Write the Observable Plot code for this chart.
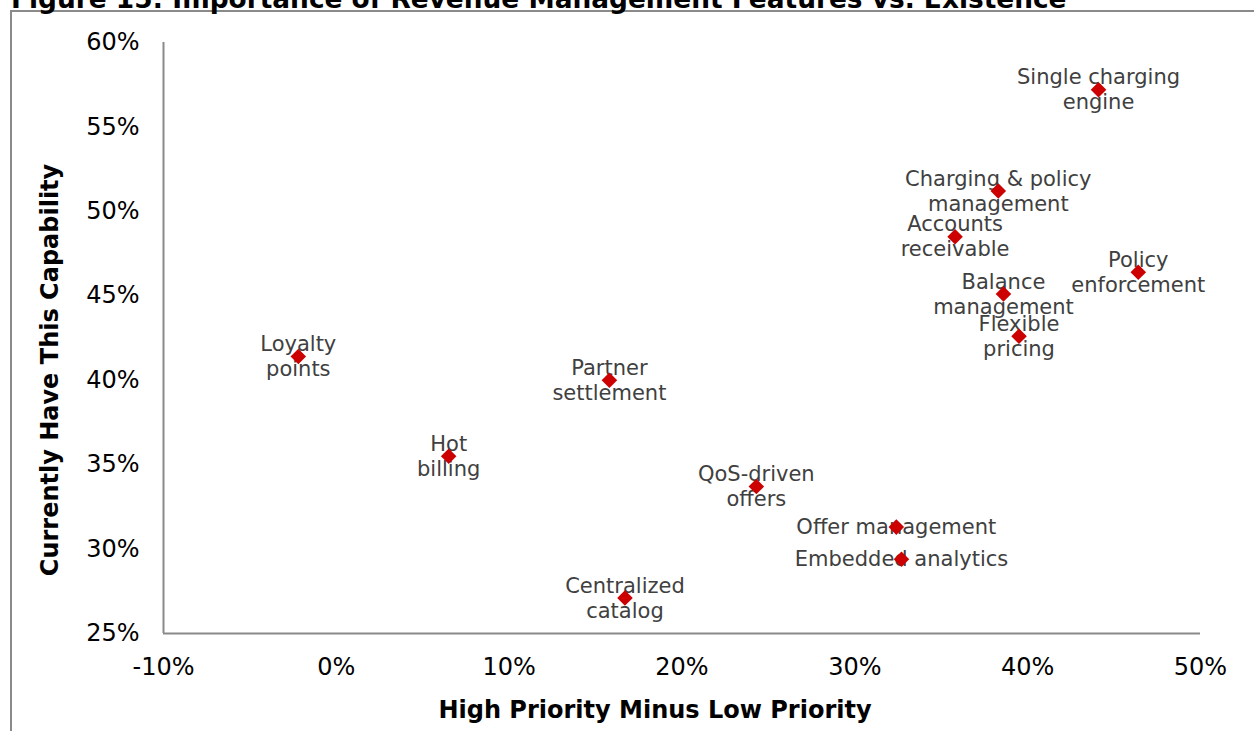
<!DOCTYPE html>
<html>
<head>
<meta charset="utf-8">
<script src="https://cdn.jsdelivr.net/npm/d3@7"></script>
<script src="https://cdn.jsdelivr.net/npm/@observablehq/plot@0.6"></script>
<style>
  html, body { margin: 0; padding: 0; background: #fff; overflow: hidden; }
  #wrap { position: relative; width: 1254px; height: 731px; overflow: hidden; }
  #title { position: absolute; left: 11px; top: -14px; font: bold 26.4px "DejaVu Sans", Verdana, sans-serif; line-height: 26px; color: #000; white-space: nowrap; }
  #frame { position: absolute; left: 10px; top: 10px; width: 1300px; height: 800px; border-left: 2px solid #8a8a8a; border-top: 2px solid #8a8a8a; }
  #chart { position: absolute; left: 0; top: 0; }
</style>
</head>
<body>
<div id="wrap">
  <div id="frame"></div>
  <div id="title">Figure 15: Importance of Revenue Management Features vs. Existence</div>
  <div id="chart"></div>
</div>
<script>
const features = [
  "Single charging\nengine",
  "Charging & policy\nmanagement",
  "Accounts\nreceivable",
  "Balance\nmanagement",
  "Policy\nenforcement",
  "Flexible\npricing",
  "Loyalty\npoints",
  "Partner\nsettlement",
  "Hot\nbilling",
  "QoS-driven\noffers",
  "Offer management",
  "Embedded analytics",
  "Centralized\ncatalog"
];
const priorityGap = [0.441, 0.383, 0.358, 0.386, 0.464, 0.395, -0.022, 0.158, 0.065, 0.243, 0.324, 0.327, 0.167];
const haveCapability = [0.572, 0.512, 0.485, 0.451, 0.464, 0.426, 0.414, 0.400, 0.355, 0.337, 0.313, 0.294, 0.271];
const xTicks = [-0.1, 0, 0.1, 0.2, 0.3, 0.4, 0.5];
const yTicks = [0.25, 0.30, 0.35, 0.40, 0.45, 0.50, 0.55, 0.60];

const data = features.map((f, i) => ({name: f, x: priorityGap[i], y: haveCapability[i]}));
const pct = d => `${Math.round(d * 100)}%`;
const FONT = '"DejaVu Sans", Verdana, sans-serif';

const chart = Plot.plot({
  width: 1254,
  height: 731,
  marginLeft: 163,
  marginRight: 54,
  marginTop: 42,
  marginBottom: 98,
  style: {fontFamily: FONT, background: "transparent", overflow: "visible"},
  x: {domain: [-0.1, 0.5]},
  y: {domain: [0.25, 0.6]},
  marks: [
    Plot.axisX(xTicks, {tickSize: 0, tickPadding: 24, tickFormat: pct, fontSize: 24, fill: "#000", label: null}),
    Plot.axisY(yTicks, {tickSize: 0, tickPadding: 24, tickFormat: pct, fontSize: 24, fill: "#000", label: null}),
    Plot.ruleY([0.25], {stroke: "#8a8a8a", strokeWidth: 2}),
    Plot.ruleX([-0.1], {stroke: "#8a8a8a", strokeWidth: 2}),
    Plot.text(["High Priority Minus Low Priority"], {frameAnchor: "bottom", dx: -27, dy: 77, fontSize: 24, fontWeight: "bold", fill: "#000", lineAnchor: "middle", textAnchor: "middle"}),
    Plot.text(["Currently Have This Capability"], {frameAnchor: "left", dx: -113, dy: 32, rotate: -90, fontSize: 24, fontWeight: "bold", fill: "#000", lineAnchor: "middle", textAnchor: "middle"}),
    Plot.text(data, {x: "x", y: "y", text: "name", dy: -1, fontSize: 21, lineHeight: 1.2, fill: "#404040", lineAnchor: "middle", textAnchor: "middle"}),
    Plot.dot(data, {x: "x", y: "y", symbol: "diamond2", r: 7, fill: "#cc0000", stroke: "none"})
  ]
});
document.getElementById("chart").appendChild(chart);
</script>
</body>
</html>
